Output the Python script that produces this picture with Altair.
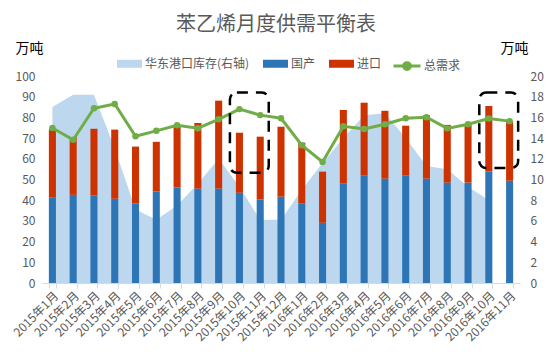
import altair as alt
import pandas as pd

# ---- data ----
months = ["2015年1月", "2015年2月", "2015年3月", "2015年4月", "2015年5月", "2015年6月",
          "2015年7月", "2015年8月", "2015年9月", "2015年10月", "2015年11月", "2015年12月",
          "2016年1月", "2016年2月", "2016年3月", "2016年4月", "2016年5月", "2016年6月",
          "2016年7月", "2016年8月", "2016年9月", "2016年10月", "2016年11月"]

domestic = [41.4, 42.6, 42.3, 40.7, 38.5, 44.2, 46.2, 45.6, 45.6, 43.6, 40.4, 41.7,
            38.5, 29.1, 48.1, 52.0, 50.4, 52.0, 50.4, 48.5, 48.5, 53.8, 49.4]
imports = [32.8, 27.9, 32.2, 33.4, 27.4, 24.0, 29.6, 31.7, 42.5, 29.0, 30.3, 33.8,
           29.3, 24.7, 35.5, 35.1, 32.8, 24.0, 30.6, 27.9, 28.3, 31.7, 28.7]
demand = [74.9, 69.2, 84.4, 86.5, 70.9, 73.5, 76.2, 74.8, 79.1, 84.0, 81.1, 79.6,
          66.6, 58.5, 75.7, 74.4, 76.7, 79.6, 80.1, 74.7, 76.7, 79.5, 78.2]
inventory = [17.0, 18.2, 18.2, 13.0, 7.1, 6.1, 7.5, 9.6, 12.0, 9.3, 6.1, 6.1,
             9.0, 11.6, 14.0, 16.2, 16.4, 14.0, 11.3, 11.0, 9.3, 8.0, None]

series_names = ["华东港口库存(右轴)", "国产", "进口"]
series_colors = ["#BDD7EE", "#2E75B6", "#CC3300"]
demand_name = "总需求"
demand_color = "#70AD47"

left_ticks = list(range(0, 101, 10))
right_ticks = list(range(0, 21, 2))

box_start = ["2015年10月", "2016年10月"]
box_end = ["2015年11月", "2016年11月"]
box_top = [92.0, 92.0]
box_bottom = [53.3, 55.5]

title_text = "苯乙烯月度供需平衡表"
unit_text = "万吨"

FONT = "Noto Sans CJK SC"
GRAY = "#595959"

# ---- tables ----
inv_df = pd.DataFrame({"month": months, "value": inventory, "series": series_names[0]}).dropna()
bar_df = pd.DataFrame({
    "month": months + months,
    "value": domestic + imports,
    "series": [series_names[1]] * len(months) + [series_names[2]] * len(months),
    "ord": [0] * len(months) + [1] * len(months),
})
line_df = pd.DataFrame({"month": months, "value": demand, "series": demand_name})
box_df = pd.DataFrame({"s": box_start, "e": box_end, "top": box_top, "bottom": box_bottom})

x_scale = alt.Scale(domain=months, paddingInner=0.66, paddingOuter=0.33)
x_axis = alt.Axis(title=None, labelAngle=-45, labelFontSize=12, labelColor=GRAY,
                  tickBand="extent", tickSize=5, tickColor="#D9D9D9",
                  domainColor="#D9D9D9", labelPadding=2, grid=False)

left_scale = alt.Scale(domain=[0, 100])
left_axis = alt.Axis(orient="left", values=left_ticks, title=unit_text, titleAngle=0,
                     titleX=-27, titleY=-28, titleAlign="left", titleBaseline="middle",
                     titleFontSize=14, titleFontWeight="normal", titleColor="#000000",
                     labelColor=GRAY, labelFontSize=12, domain=False, ticks=False,
                     grid=False, labelPadding=7)
right_axis = alt.Axis(orient="right", values=right_ticks, title=unit_text, titleAngle=0,
                      titleX=-20, titleY=-28, titleAlign="left", titleBaseline="middle",
                      titleFontSize=14, titleFontWeight="normal", titleColor="#000000",
                      labelColor=GRAY, labelFontSize=12, domain=False, ticks=False,
                      grid=False, labelPadding=10)

color_scale = alt.Scale(domain=series_names, range=series_colors)
color_legend = alt.Legend(title=None, orient="none", legendX=75, legendY=-25,
                          direction="horizontal", symbolType="M-1,-0.32H1V0.32H-1Z",
                          symbolSize=625, symbolStrokeWidth=0, symbolOpacity=1,
                          labelFontSize=12, labelColor=GRAY, columnPadding=13,
                          labelOffset=3)

X = alt.X("month:N", scale=x_scale, axis=x_axis, sort=months)

area = alt.Chart(inv_df).mark_area(opacity=1).encode(
    x=X,
    y=alt.Y("value:Q", scale=alt.Scale(domain=[0, 20]), axis=right_axis),
    color=alt.Color("series:N", scale=color_scale, legend=color_legend),
)

bars = alt.Chart(bar_df).mark_bar().encode(
    x=X,
    y=alt.Y("value:Q", stack="zero", scale=left_scale, axis=left_axis),
    color=alt.Color("series:N", scale=color_scale, legend=color_legend),
    order=alt.Order("ord:Q", sort="ascending"),
)

line = alt.Chart(line_df).mark_line(strokeWidth=3).encode(
    x=X,
    y=alt.Y("value:Q", scale=left_scale, axis=left_axis),
    stroke=alt.Stroke("series:N",
                      scale=alt.Scale(domain=[demand_name], range=[demand_color]),
                      legend=alt.Legend(title=None, orient="none", legendX=350, legendY=-25,
                                        symbolType="M-1,0H1M0.25,0A0.25,0.25,0,1,1,-0.25,0A0.25,0.25,0,1,1,0.25,0Z",
                                        symbolSize=729, symbolStrokeWidth=3,
                                        symbolFillColor=demand_color,
                                        labelFontSize=12, labelColor=GRAY, labelOffset=2)),
)

points = alt.Chart(line_df).mark_circle(size=42, color=demand_color, opacity=1).encode(
    x=X,
    y=alt.Y("value:Q", scale=left_scale, axis=left_axis),
)

boxes = alt.Chart(box_df).mark_rect(filled=False, stroke="black", strokeWidth=2.5,
                                    strokeDash=[11, 8], cornerRadius=7,
                                    xOffset=-6, x2Offset=5).encode(
    x=alt.X("s:N", scale=x_scale, axis=x_axis, sort=months, bandPosition=0),
    x2=alt.X2("e", bandPosition=1),
    y=alt.Y("top:Q", scale=left_scale, axis=left_axis),
    y2="bottom:Q",
)

left_layer = alt.layer(bars, line, points, boxes)

chart = alt.layer(area, left_layer).resolve_scale(y="independent").properties(
    width=478, height=207,
    autosize=alt.AutoSizeParams(type="none"),
    padding={"left": 34, "top": 68, "right": 26, "bottom": 69},
    title=alt.Title(title_text, fontSize=20, fontWeight="normal", color=GRAY,
                    anchor="middle", offset=6, dx=-5),
).configure(font=FONT).configure_view(stroke=None)

chart.save("out.html", embed_options={"renderer": "svg", "actions": False})
